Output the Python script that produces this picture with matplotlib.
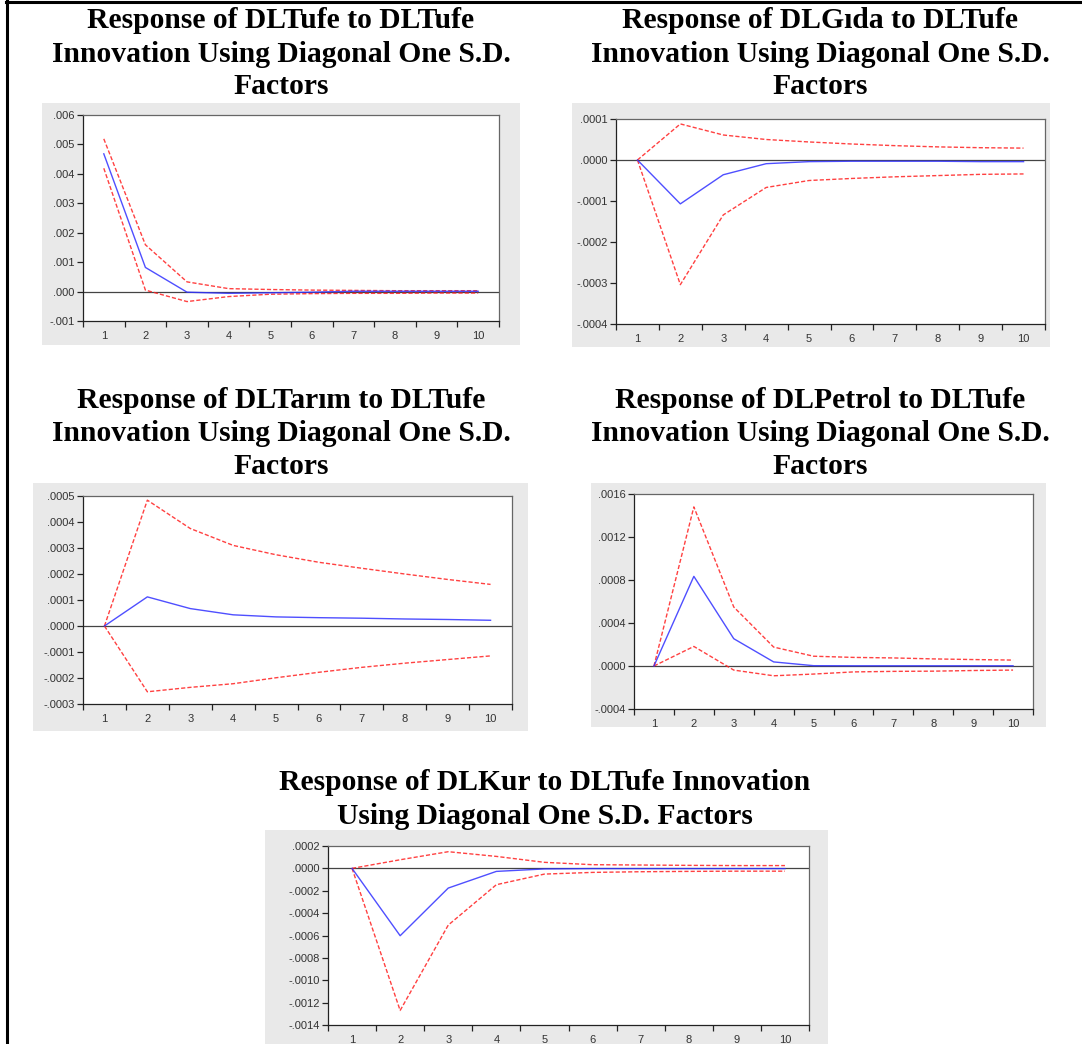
import matplotlib
matplotlib.use("Agg")
import matplotlib.pyplot as plt
from matplotlib.patches import Rectangle
from matplotlib.lines import Line2D
from matplotlib.ticker import FixedLocator, FuncFormatter

W, H = 1082, 1044

periods = list(range(1, 11))

# DLTufe response
tufe_resp = [0.00468, 0.00082, -0.00002, -0.00006, -0.00004, -0.00002, 0.00001, 0.00001, 0.00001, 0.00001]
tufe_up = [0.00519, 0.00159, 0.00033, 0.00010, 0.00007, 0.00005, 0.00004, 0.00003, 0.00003, 0.00003]
tufe_lo = [0.00419, 0.00005, -0.00034, -0.00017, -0.00009, -0.00007, -0.00006, -0.00006, -0.00005, -0.00005]

# DLGida response
gida_resp = [0.0, -0.000107, -0.000036, -0.000009, -0.000004, -0.000003, -0.000003, -0.000003, -0.000004, -0.000004]
gida_up = [0.0, 0.000088, 0.000061, 0.000050, 0.000044, 0.000039, 0.000035, 0.000032, 0.000030, 0.000029]
gida_lo = [0.0, -0.000304, -0.000134, -0.000067, -0.000050, -0.000045, -0.000041, -0.000038, -0.000035, -0.000034]

# DLTarim response
tarim_resp = [0.0, 0.000112, 0.000067, 0.000043, 0.000035, 0.000032, 0.000030, 0.000027, 0.000025, 0.000022]
tarim_up = [0.0, 0.000484, 0.000375, 0.000310, 0.000274, 0.000245, 0.000222, 0.000200, 0.000179, 0.000160]
tarim_lo = [0.0, -0.000253, -0.000236, -0.000222, -0.000199, -0.000178, -0.000159, -0.000143, -0.000129, -0.000115]

# DLPetrol response
petrol_resp = [0.0, 0.000834, 0.000254, 0.000038, 0.000003, 0.000002, 0.000002, 0.000002, 0.000002, 0.000002]
petrol_up = [0.0, 0.00148, 0.000549, 0.000176, 0.000091, 0.000080, 0.000075, 0.000066, 0.000060, 0.000055]
petrol_lo = [0.0, 0.000182, -0.000038, -0.000091, -0.000075, -0.000055, -0.000050, -0.000048, -0.000042, -0.000038]

# DLKur response
kur_resp = [0.0, -0.000602, -0.000176, -0.000027, -0.000005, -0.000002, -0.000002, -0.000002, -0.000002, -0.000002]
kur_up = [0.0, 0.000077, 0.000149, 0.000107, 0.000054, 0.000033, 0.000030, 0.000027, 0.000025, 0.000025]
kur_lo = [0.0, -0.00127, -0.000507, -0.000146, -0.000051, -0.000036, -0.000030, -0.000027, -0.000025, -0.000025]

titles = [
    ["Response of DLTufe to DLTufe", "Innovation Using Diagonal One S.D.", "Factors"],
    ["Response of DLGıda to DLTufe", "Innovation Using Diagonal One S.D.", "Factors"],
    ["Response of DLTarım to DLTufe", "Innovation Using Diagonal One S.D.", "Factors"],
    ["Response of DLPetrol to DLTufe", "Innovation Using Diagonal One S.D.", "Factors"],
    ["Response of DLKur to DLTufe Innovation", "Using Diagonal One S.D. Factors"],
]

yticks = [
    [-0.001, 0.0, 0.001, 0.002, 0.003, 0.004, 0.005, 0.006],
    [-0.0004, -0.0003, -0.0002, -0.0001, 0.0, 0.0001],
    [-0.0003, -0.0002, -0.0001, 0.0, 0.0001, 0.0002, 0.0003, 0.0004, 0.0005],
    [-0.0004, 0.0, 0.0004, 0.0008, 0.0012, 0.0016],
    [-0.0014, -0.0012, -0.0010, -0.0008, -0.0006, -0.0004, -0.0002, 0.0, 0.0002],
]
decimals = [3, 4, 4, 4, 4]

series = [
    (tufe_resp, tufe_up, tufe_lo),
    (gida_resp, gida_up, gida_lo),
    (tarim_resp, tarim_up, tarim_lo),
    (petrol_resp, petrol_up, petrol_lo),
    (kur_resp, kur_up, kur_lo),
]

# layout in pixels: grey box (x0, y0, x1, y1), plot area (x0, y0, x1, y1), title centre x, title line y's
boxes = [(42, 103, 520, 345), (572, 103, 1050, 347), (33, 483, 528, 731),
         (591, 483, 1046, 727), (265, 830, 828, 1044)]
plots = [(83, 115, 499, 321), (616, 119, 1045, 324), (83, 496, 512, 704),
         (634, 494, 1033, 709), (328, 846, 809, 1025)]
title_x = [281, 820, 281, 820, 545]
title_y = [[20, 54, 87], [20, 54, 87], [400, 433, 466], [400, 433, 466], [783, 816]]


def fmt(d):
    def f(v, pos):
        s = "%.*f" % (d, v)
        if s.startswith("-0."):
            s = "-" + s[2:]
        elif s.startswith("0."):
            s = s[1:]
        return s
    return f


fig = plt.figure(figsize=(W / 100, H / 100), dpi=100)
fig.patch.set_facecolor("white")

# page frame (left and top rule)
fig.add_artist(Line2D([7 / W, 7 / W], [0, 1 - 1 / H], color="black", lw=2.2, transform=fig.transFigure))
fig.add_artist(Line2D([6 / W, 1], [1 - 2 / H, 1 - 2 / H], color="black", lw=2.2, transform=fig.transFigure))

for i in range(5):
    bx0, by0, bx1, by1 = boxes[i]
    fig.add_artist(Rectangle((bx0 / W, 1 - by1 / H), (bx1 - bx0) / W, (by1 - by0) / H,
                             facecolor="#e9e9e9", edgecolor="none", transform=fig.transFigure, zorder=0))
    px0, py0, px1, py1 = plots[i]
    ax = fig.add_axes([px0 / W, 1 - py1 / H, (px1 - px0) / W, (py1 - py0) / H])
    ax.set_facecolor("white")
    resp, up, lo = series[i]
    ax.axhline(0, color="#444444", lw=0.9, zorder=1)
    ax.plot(periods, up, color="#ff2020", lw=1.0, ls=(0, (3, 1.5)), alpha=0.85, zorder=2)
    ax.plot(periods, lo, color="#ff2020", lw=1.0, ls=(0, (3, 1.5)), alpha=0.85, zorder=2)
    ax.plot(periods, resp, color="#3030ff", lw=1.0, alpha=0.85, zorder=3)
    ax.set_xlim(0.5, 10.5)
    ax.set_ylim(yticks[i][0], yticks[i][-1])
    ax.xaxis.set_major_locator(FixedLocator(periods))
    ax.xaxis.set_minor_locator(FixedLocator([p + 0.5 for p in range(0, 11)]))
    ax.yaxis.set_major_locator(FixedLocator(yticks[i]))
    ax.yaxis.set_major_formatter(FuncFormatter(fmt(decimals[i])))
    ax.tick_params(axis="x", which="major", length=0, pad=7, labelsize=8, labelcolor="#333333")
    ax.tick_params(axis="x", which="minor", length=4, width=0.9, color="#222222", direction="out")
    ax.tick_params(axis="y", length=4, width=0.9, color="#222222", direction="out",
                   labelsize=8, labelcolor="#333333", pad=2)
    for lab in ax.get_xticklabels() + ax.get_yticklabels():
        lab.set_fontfamily("Liberation Sans")
    for s in ["left", "bottom"]:
        ax.spines[s].set_color("#222222")
        ax.spines[s].set_linewidth(0.9)
    for s in ["top", "right"]:
        ax.spines[s].set_color("#666666")
        ax.spines[s].set_linewidth(0.9)

    for line, yy in zip(titles[i], title_y[i]):
        fig.text(title_x[i] / W, 1 - yy / H, line, ha="center", va="center",
                 fontsize=21.3, fontweight="bold", family="Liberation Serif")

fig.savefig("out.png", dpi=100, facecolor="white")
